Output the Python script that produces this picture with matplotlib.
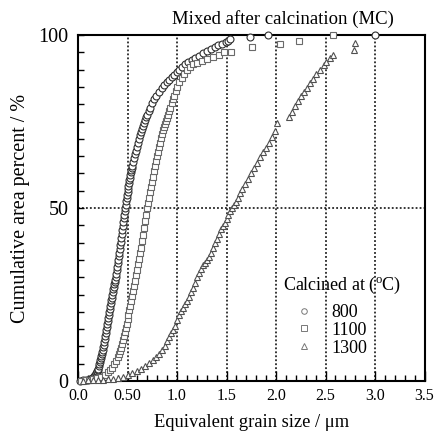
import matplotlib
matplotlib.use("Agg")
import matplotlib.pyplot as plt
from matplotlib.lines import Line2D
from matplotlib.ticker import MultipleLocator, FixedLocator

plt.rcParams["font.family"] = ["Liberation Serif", "DejaVu Serif"]
plt.rcParams["mathtext.fontset"] = "custom"
plt.rcParams["mathtext.rm"] = "Liberation Serif"

# Cumulative area percent vs. equivalent grain size (um), per calcination temperature
size_800 = [0.02, 0.05, 0.08, 0.10, 0.12, 0.14, 0.16, 0.17,
            0.18, 0.185, 0.19, 0.195, 0.20, 0.205, 0.21, 0.215, 0.22, 0.225, 0.23, 0.235,
            0.24, 0.245, 0.25, 0.255, 0.26, 0.265, 0.27, 0.275, 0.28, 0.285, 0.29, 0.295,
            0.30, 0.305, 0.31, 0.315, 0.32, 0.325, 0.33, 0.335, 0.34, 0.345, 0.35, 0.355,
            0.36, 0.365, 0.37, 0.375, 0.38, 0.385, 0.39, 0.395, 0.40, 0.405, 0.41, 0.415,
            0.42, 0.425, 0.43, 0.435, 0.44, 0.445, 0.45, 0.455, 0.46, 0.465, 0.47, 0.475,
            0.48, 0.485, 0.49, 0.495, 0.50, 0.505, 0.51, 0.515, 0.52, 0.525, 0.53, 0.535,
            0.54, 0.545,
            0.55, 0.56, 0.57, 0.58, 0.59, 0.60, 0.61, 0.62, 0.63, 0.64, 0.65, 0.66, 0.67, 0.68,
            0.69, 0.70,
            0.715, 0.73, 0.75, 0.77, 0.79, 0.82, 0.845, 0.87, 0.895, 0.92, 0.945, 0.97, 0.995,
            1.02, 1.05, 1.08, 1.11, 1.15, 1.18, 1.22, 1.26, 1.30, 1.34, 1.38, 1.41, 1.45, 1.49,
            1.52, 1.54, 1.74, 1.92, 3.00]
cum_800 = [0.1, 0.2, 0.3, 0.4, 0.6, 0.9, 1.4, 1.7,
           2.1, 2.3, 2.6, 2.9, 3.1, 3.6, 4.2, 4.8, 5.4, 6.0, 6.6, 7.2,
           7.8, 8.4, 9.0, 9.7, 10.4, 11.2, 12.0, 12.9, 13.8, 14.6, 15.5, 16.4,
           17.2, 18.1, 19.0, 19.9, 20.8, 21.7, 22.5, 23.3, 24.1, 24.9, 25.7, 26.5,
           27.2, 27.9, 28.6, 29.3, 30.1, 31.0, 32.0, 33.0, 34.0, 35.0, 36.0, 37.0,
           38.1, 39.2, 40.3, 41.4, 42.5, 43.6, 44.8, 45.9, 47.0, 48.0, 49.0, 50.0,
           51.0, 51.9, 52.8, 53.7, 54.5, 55.4, 56.3, 57.1, 58.0, 58.8, 59.6, 60.3,
           61.0, 61.6,
           62.2, 63.4, 64.5, 65.5, 66.5, 67.6, 68.8, 70.0, 71.0, 71.9, 72.8, 73.7, 74.5, 75.4,
           76.2, 77.0,
           78.0, 79.0, 80.3, 81.5, 82.3, 83.5, 84.6, 85.5, 86.3, 87.0, 87.8, 88.5, 89.3,
           90.0, 90.8, 91.5, 92.1, 92.8, 93.4, 94.0, 94.7, 95.3, 95.9, 96.5, 97.0, 97.5, 97.9,
           98.3, 98.8, 99.4, 100.0, 100.0]

size_1100 = [0.03, 0.07, 0.11, 0.15, 0.19, 0.23, 0.27, 0.30, 0.32, 0.34, 0.36, 0.38, 0.40, 0.41,
             0.42, 0.43, 0.44, 0.45, 0.46, 0.47, 0.48, 0.49, 0.50, 0.51, 0.52, 0.53, 0.54, 0.55,
             0.56, 0.57, 0.58, 0.59, 0.60, 0.61, 0.62, 0.63, 0.64, 0.65, 0.66, 0.67, 0.68, 0.69,
             0.70, 0.71, 0.72, 0.73, 0.74, 0.75, 0.76, 0.77, 0.78, 0.79, 0.80, 0.81, 0.82, 0.83,
             0.84, 0.85, 0.86, 0.87, 0.88, 0.89, 0.90, 0.91, 0.92, 0.93, 0.945, 0.96, 0.97, 0.985,
             1.00, 1.025, 1.05, 1.075, 1.10, 1.13, 1.16, 1.20, 1.25, 1.30, 1.36, 1.42, 1.47, 1.55,
             1.76, 2.04, 2.23, 2.58]
cum_1100 = [0.1, 0.2, 0.3, 0.5, 0.8, 1.2, 1.8, 2.5, 3.1, 3.9, 4.8, 5.8, 7.0, 7.8,
            8.6, 9.5, 10.6, 11.8, 13.0, 14.2, 15.4, 16.6, 17.8, 19.0, 20.4, 21.8, 23.2, 24.6,
            26.0, 27.4, 28.9, 30.5, 32.1, 33.7, 35.3, 36.9, 38.5, 40.4, 42.3, 44.2, 46.2, 48.1,
            50.0, 51.5, 53.0, 54.5, 56.0, 57.5, 59.1, 60.7, 62.2, 63.6, 65.0, 66.3, 67.6, 68.9,
            70.1, 71.3, 72.5, 73.5, 74.4, 75.2, 76.0, 77.0, 78.0, 79.0, 80.3, 81.6, 82.5, 83.8,
            85.0, 86.3, 87.5, 88.8, 90.0, 90.8, 91.5, 92.0, 92.5, 93.0, 93.6, 94.3, 95.0, 95.2,
            96.5, 97.4, 98.3, 100.0]

size_1300 = [0.05, 0.10, 0.15, 0.20, 0.25, 0.30, 0.35, 0.40, 0.45, 0.50, 0.55, 0.60, 0.64, 0.68,
             0.72, 0.76, 0.79, 0.82, 0.85, 0.875, 0.90, 0.92, 0.94, 0.96, 0.98, 1.00, 1.02, 1.04,
             1.06, 1.08, 1.10, 1.12, 1.14, 1.16, 1.18, 1.20, 1.22, 1.24, 1.26, 1.28, 1.30, 1.32,
             1.34, 1.36, 1.38, 1.40, 1.42, 1.44, 1.46, 1.48, 1.50, 1.52, 1.54, 1.56, 1.58, 1.60,
             1.62, 1.64, 1.66, 1.69, 1.72, 1.75, 1.78, 1.81, 1.84, 1.87, 1.90, 1.93, 1.96, 1.985,
             2.01, 2.13, 2.16, 2.19, 2.22, 2.25, 2.28, 2.31, 2.34, 2.37, 2.40, 2.44, 2.48, 2.51,
             2.55, 2.58, 2.79, 2.80]
cum_1300 = [0.1, 0.15, 0.2, 0.3, 0.4, 0.5, 0.7, 1.0, 1.3, 1.7, 2.2, 2.9, 3.5, 4.3,
            5.2, 6.2, 7.0, 7.9, 9.0, 10.2, 11.5, 12.7, 13.8, 14.8, 16.0, 17.6, 19.0, 20.2,
            21.2, 22.3, 23.2, 24.4, 25.6, 26.8, 28.4, 30.0, 31.3, 32.4, 33.4, 34.2, 35.0, 35.9,
            37.0, 38.4, 39.8, 41.0, 42.4, 43.8, 44.8, 45.8, 46.8, 48.0, 49.0, 50.0, 50.8, 51.8,
            53.0, 54.2, 55.5, 57.0, 58.4, 60.0, 61.6, 63.0, 64.6, 66.1, 67.4, 68.8, 70.4, 72.2,
            74.5, 76.2, 77.8, 79.4, 81.0, 82.4, 83.6, 84.8, 86.0, 87.3, 88.6, 90.0, 91.2, 92.2,
            93.3, 94.2, 95.8, 97.6]

series_labels = ["800", "1100", "1300"]
series_markers = ["o", "s", "^"]
x_ticklabels = ["0.0", "0.50", "1.0", "1.5", "2.0", "2.5", "3.0", "3.5"]

fig = plt.figure(figsize=(4.38, 4.34), dpi=100)
ax = fig.add_axes([78 / 438, 1 - 381 / 434, 346.5 / 438, 346 / 434])

series = [(size_800, cum_800), (size_1100, cum_1100), (size_1300, cum_1300)]
edge_cols = ["#2e2e2e", "#6a6a6a", "#505050"]
marker_sizes = [5.0, 4.8, 5.0]
for (xs, ys), mk, ec, ms in zip(series, series_markers, edge_cols, marker_sizes):
    ax.plot(xs, ys, linestyle="none", marker=mk, markersize=ms,
            markerfacecolor="white", markeredgecolor=ec, markeredgewidth=0.8,
            clip_on=False, zorder=3)

ax.set_xlim(0, 3.5)
ax.set_ylim(0, 100)
ax.xaxis.set_major_locator(FixedLocator([0, 0.5, 1.0, 1.5, 2.0, 2.5, 3.0, 3.5]))
ax.set_xticklabels(x_ticklabels, fontsize=11.5)
ax.xaxis.set_minor_locator(MultipleLocator(0.1))
ax.yaxis.set_major_locator(FixedLocator([0, 50, 100]))
ax.yaxis.set_minor_locator(MultipleLocator(5))
ax.tick_params(axis="y", labelsize=14.5)
ax.tick_params(which="both", direction="in", top=False, right=False, width=1.0)
ax.tick_params(axis="x", which="major", length=7, pad=5)
ax.tick_params(axis="x", which="minor", length=4)
ax.tick_params(axis="y", which="both", length=4, pad=7)

ax.grid(True, which="major", color="black", linestyle=(0, (1.2, 1.4)), linewidth=1.1)
ax.set_axisbelow(True)
for sp in ax.spines.values():
    sp.set_linewidth(1.5)

ax.text(0.592, 1.02, "Mixed after calcination (MC)", transform=ax.transAxes,
        ha="center", va="bottom", fontsize=13.5)
ax.set_xlabel("Equivalent grain size / \u03bcm", fontsize=13.3, labelpad=7)
ax.set_ylabel("Cumulative area percent / %", fontsize=14.5, labelpad=6)

handles = [Line2D([], [], linestyle="none", marker=m, markersize=4,
                  markerfacecolor="white", markeredgecolor="#777777",
                  markeredgewidth=0.7) for m in series_markers]
leg = ax.legend(handles, series_labels, title="Calcined at ($^{\\rm o}$C)",
                loc="upper left", bbox_to_anchor=(0.555, 0.342), frameon=False,
                fontsize=13, title_fontsize=13, handlelength=2.33,
                handletextpad=0.33, labelspacing=0.04, borderpad=0.2,
                alignment="left")
leg._legend_box.sep = 5.5

fig.savefig("out.png", dpi=100)
